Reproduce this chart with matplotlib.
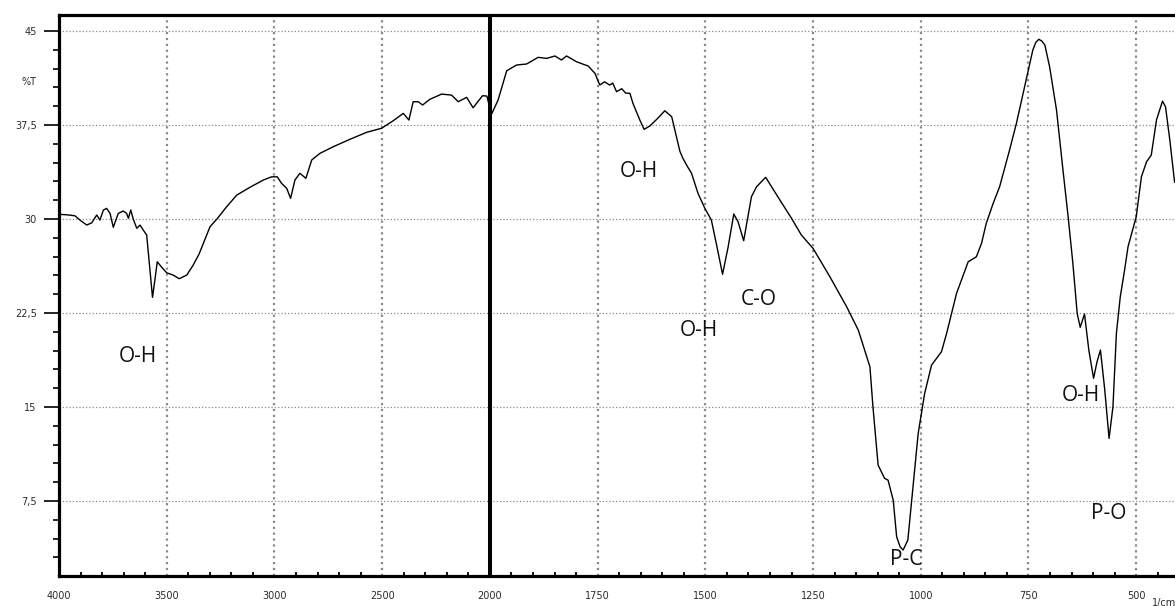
import numpy as np
import matplotlib
matplotlib.use("Agg")
import matplotlib.pyplot as plt
from matplotlib.ticker import FixedLocator, MultipleLocator, FuncFormatter, NullFormatter

# FTIR spectrum, wavenumber (1/cm) vs transmittance (%T)
wavenumber = [
    3995, 3964, 3926, 3903, 3871, 3848, 3825, 3810, 3794, 3779, 3763, 3748,
    3725, 3702, 3686, 3678, 3667, 3655, 3639, 3624, 3609, 3593, 3578, 3566,
    3555, 3544, 3523, 3500, 3470, 3442, 3407, 3377, 3350, 3330, 3299, 3268, 3222,
    3175, 3114, 3052, 3013, 2987, 2967, 2943, 2925, 2905, 2882, 2854, 2827,
    2789, 2727, 2650, 2572, 2503, 2449, 2402, 2376, 2356, 2333, 2312, 2279,
    2224, 2178, 2147, 2108, 2078, 2034, 2014, 2000,
    1996, 1981, 1961, 1938, 1915, 1888, 1868, 1849, 1834, 1822, 1799, 1772,
    1756, 1745, 1734, 1722, 1715, 1706, 1694, 1685, 1675, 1668, 1652, 1642, 1629, 1613, 1594, 1578,
    1567, 1559, 1552, 1540, 1532, 1517, 1501, 1486, 1473, 1460, 1447, 1434, 1424, 1411,
    1393, 1381, 1360, 1327, 1300, 1277, 1250, 1211, 1172, 1145, 1118, 1111,
    1099, 1084, 1076, 1064, 1056, 1048, 1041, 1030, 1018, 1006, 991, 975, 952,
    940, 917, 890, 871, 859, 848, 832, 817, 794, 778, 759, 740,
    733, 726, 719, 712, 701, 685, 670, 658, 647, 637, 630, 620, 610, 599,
    591, 583, 573, 563, 554, 546, 537, 527, 519, 500, 488, 476,
    465, 453, 439, 432, 422, 411,
]
transmittance = [
    30.37, 30.34, 30.26, 29.92, 29.52, 29.70, 30.32, 29.92, 30.72, 30.85, 30.45, 29.34,
    30.45, 30.64, 30.45, 30.06, 30.72, 29.98, 29.26, 29.52, 29.12, 28.72, 25.93, 23.75,
    25.13, 26.59, 26.15, 25.71, 25.53, 25.24, 25.53, 26.33, 27.20, 28.06, 29.39, 29.98, 30.98,
    31.91, 32.53, 33.11, 33.37, 33.37, 32.85, 32.45, 31.65, 33.11, 33.65, 33.25, 34.71,
    35.24, 35.77, 36.36, 36.92, 37.24, 37.84, 38.43, 37.90, 39.36, 39.36, 39.10, 39.55,
    39.97, 39.89, 39.36, 39.71, 38.88, 39.84, 39.81, 38.86,
    38.38, 39.49, 41.83, 42.29, 42.37, 42.90, 42.82, 43.01, 42.69, 43.01, 42.55, 42.21,
    41.62, 40.69, 40.95, 40.69, 40.85, 40.16, 40.40, 40.05, 40.03, 39.23, 37.90, 37.16, 37.42, 37.95, 38.64, 38.16,
    36.57, 35.40, 34.84, 34.10, 33.65, 32.05, 30.85, 29.92, 27.79, 25.59, 27.79, 30.40, 29.78, 28.27,
    31.78, 32.58, 33.33, 31.52, 30.06, 28.72, 27.66, 25.40, 23.00, 21.14, 18.21, 15.02,
    10.37, 9.31, 9.17, 7.58, 4.65, 3.85, 3.59, 4.39, 8.64, 12.90, 16.09, 18.35, 19.41,
    20.88, 24.07, 26.59, 26.99, 28.06, 29.66, 31.25, 32.58, 35.50, 37.64, 40.56, 43.48,
    44.10, 44.34, 44.20, 43.88, 42.15, 38.70, 33.91, 30.18, 26.46, 22.47, 21.36, 22.42, 19.55, 17.29,
    18.61, 19.55, 16.36, 12.50, 15.02, 20.88, 23.80, 25.93, 27.79, 30.18, 33.37, 34.57,
    35.11, 37.90, 39.41, 38.96, 36.30, 32.95,
]

# band assignments
band_labels = ["O-H", "O-H", "O-H", "C-O", "P-C", "O-H", "P-O"]
band_x = [3633, 1654, 1514, 1376, 1035, 629, 564]
band_y = [19.07, 33.83, 21.10, 23.58, 2.83, 15.92, 6.54]

x_major = [4000, 3500, 3000, 2500, 2000, 1750, 1500, 1250, 1000, 750, 500]
x_minor = list(range(4000, 2000, -100)) + list(range(2000, 399, -50))
y_major = [7.5, 15, 22.5, 30, 37.5, 45]


# below 2000 1/cm the axis is stretched by a factor of two
def fwd(w):
    w = np.asarray(w, dtype=float)
    return np.where(w >= 2000, w, 2 * w - 2000)


def inv(s):
    s = np.asarray(s, dtype=float)
    return np.where(s >= 2000, s, (s + 2000) / 2)


W, H = 1175, 606
fig = plt.figure(figsize=(W / 100, H / 100), dpi=100)
ax = fig.add_axes([59 / W, (H - 575.5) / H, (W - 59) / W, (575.5 - 15) / H])

ax.set_xscale("function", functions=(fwd, inv))
ax.set_xlim(4000, 410)
ax.set_ylim(1.56, 46.28)

ax.plot(wavenumber, transmittance, color="black", lw=1.0, zorder=3)
ax.axvline(2000, color="black", lw=2.9, zorder=4)

ax.xaxis.set_major_locator(FixedLocator(x_major))
ax.xaxis.set_minor_locator(FixedLocator(x_minor))
ax.xaxis.set_minor_formatter(NullFormatter())
ax.yaxis.set_major_locator(FixedLocator(y_major))
ax.yaxis.set_minor_locator(MultipleLocator(1.5))
ax.yaxis.set_major_formatter(FuncFormatter(lambda v, p: f"{v:g}".replace(".", ",")))

ax.grid(axis="x", which="major", color="#8a8a8a", ls=":", lw=1.6)
ax.grid(axis="y", which="major", color="#8a8a8a", ls=":", lw=0.9)

lab_size = 7.0
ax.tick_params(axis="y", which="major", direction="out", length=11, width=1.2,
               pad=5, labelcolor="#2a2a2a", labelsize=lab_size)
ax.tick_params(axis="y", which="minor", direction="out", length=4, width=1.2)
ax.tick_params(axis="x", which="major", length=0, pad=11,
               labelcolor="#2a2a2a", labelsize=lab_size)
ax.tick_params(axis="x", which="minor", direction="in", length=3, width=1.3)

for side in ["left", "bottom", "top"]:
    ax.spines[side].set_linewidth(2.3)
ax.spines["right"].set_visible(False)

for lab, bx, by in zip(band_labels, band_x, band_y):
    ax.text(bx, by, lab, ha="center", va="center", fontsize=15,
            family="Open Sans", color="#111111", zorder=5)

fig.text(37 / W, 1 - 81.7 / H, "%T", ha="right", va="center",
         color="#2a2a2a", size=lab_size)
fig.text(1152 / W, 1 - 603 / H, "1/cm", ha="left", va="center",
         color="#2a2a2a", size=lab_size)

fig.savefig("out.png", dpi=100)
